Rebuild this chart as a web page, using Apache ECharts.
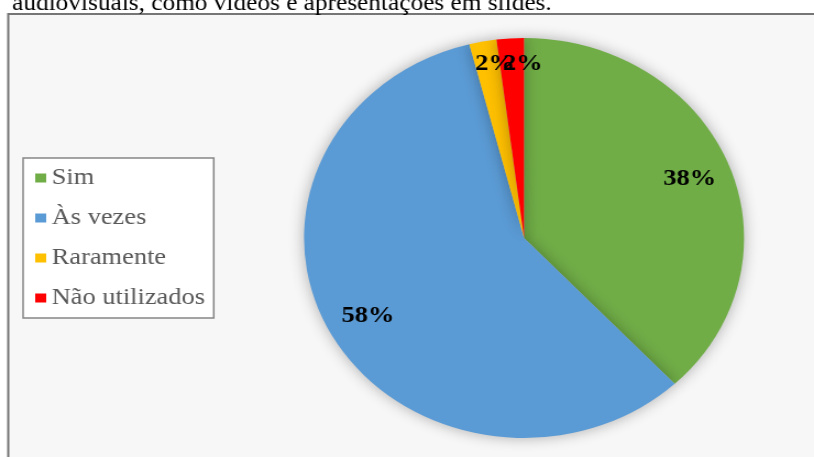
<!DOCTYPE html>
<html>
<head>
<meta charset="utf-8">
<script src="https://cdn.jsdelivr.net/npm/echarts@6/dist/echarts.min.js"></script>
<style>
  html, body { margin: 0; padding: 0; background: #fff; overflow: hidden; }
  /* the source picture is stretched ~10% horizontally, so draw at 740px and widen */
  #chart { width: 740px; height: 457px; transform: scale(1.1, 1); transform-origin: 0 0; }
</style>
</head>
<body>
<div id="chart"></div>
<script>
const categories = ['Sim', 'Às vezes', 'Raramente', 'Não utilizados'];
const shares = [38, 58, 2, 2];
const colors = ['#70ad47', '#5b9bd5', '#ffc000', '#ff0000'];
const titleText = 'audiovisuais, como vídeos e apresentações em slides.';

const pieData = categories.map((name, i) => ({
    name: name,
    value: shares[i],
    itemStyle: { color: colors[i] }
}));

const chart = echarts.init(document.getElementById('chart'));

chart.setOption({
    backgroundColor: '#ffffff',
    animation: false,
    title: {
        text: titleText,
        left: 6,
        top: -13,
        textStyle: {
            fontFamily: 'Liberation Serif',
            fontSize: 23,
            fontWeight: 'normal',
            color: '#000'
        }
    },
    graphic: [{
        type: 'rect',
        z: -1,
        shape: { x: 7.5, y: 14, width: 760, height: 470 },
        style: { fill: '#f7f7f7', stroke: '#767676', lineWidth: 2 }
    }],
    legend: {
        orient: 'vertical',
        left: 21,
        top: 158,
        padding: [8, 8, 8, 11],
        itemGap: 16,
        itemWidth: 10,
        itemHeight: 9,
        icon: 'rect',
        backgroundColor: '#ffffff',
        borderColor: '#868686',
        borderWidth: 1.5,
        data: categories,
        textStyle: {
            fontFamily: 'Liberation Serif',
            fontSize: 24,
            color: '#595959'
        }
    },
    series: [
        {
            type: 'pie',
            center: [476.4, 238],
            radius: [0, 200],
            startAngle: 90,
            clockwise: true,
            silent: true,
            data: pieData,
            label: { show: false },
            labelLine: { show: false },
            itemStyle: {
                shadowBlur: 14,
                shadowColor: 'rgba(0,0,0,0.3)'
            }
        },
        {
            // transparent ring only used to place the percentage labels
            type: 'pie',
            center: [476.4, 238],
            radius: [118, 200],
            startAngle: 90,
            clockwise: true,
            silent: true,
            data: pieData.map(d => ({ name: d.name, value: d.value })),
            itemStyle: { color: 'rgba(0,0,0,0)' },
            labelLine: { show: false },
            label: {
                show: true,
                position: 'inside',
                formatter: p => p.value + '%',
                fontFamily: 'Liberation Serif',
                fontSize: 24,
                fontWeight: 'bold',
                color: '#000'
            },
            // tiny slices: labels pushed up toward the rim, as in the source
            labelLayout: p => p.dataIndex === 2 ? { dx: 4, dy: -15 }
                : p.dataIndex === 3 ? { dx: 9, dy: -13 } : {}
        }
    ]
});
</script>
</body>
</html>
